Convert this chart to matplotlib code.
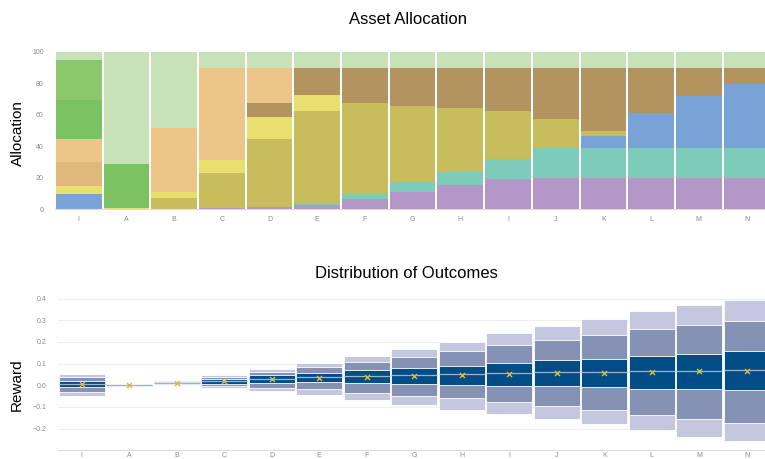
#!/usr/bin/env python3
"""
Asset allocation per portfolio, with the spread of outcomes underneath.
Writes out.png (765x459).
"""

import numpy as np
import matplotlib
matplotlib.use('Agg')
import matplotlib.pyplot as plt

categories = ['I', 'A', 'B', 'C', 'D', 'E', 'F', 'G', 'H', 'I', 'J', 'K', 'L', 'M', 'N']

# allocation (%) per asset class, stacked bottom to top
alloc_purple = [0, 0, 0, 1.0, 1.5, 3.0, 6.8, 11.2, 15.2, 19.2, 19.7, 19.7, 19.7, 19.7, 19.7]
alloc_teal = [0, 0, 0, 0, 0, 1.0, 2.7, 5.9, 8.5, 12.5, 19.4, 19.5, 19.5, 19.5, 19.5]
alloc_blue = [9.7, 0, 0, 0, 0, 0, 0, 0, 0, 0, 0, 7.5, 21.9, 32.9, 40.1]
alloc_olive = [0, 0, 7.4, 22.3, 43.3, 58.6, 58.2, 48.7, 40.8, 30.9, 18.2, 2.8, 0, 0, 0]
alloc_yellow = [5.1, 1.0, 3.8, 8.0, 14.0, 9.9, 0, 0, 0, 0, 0, 0, 0, 0, 0]
alloc_tan = [15.2, 0, 0, 0, 0, 0, 0, 0, 0, 0, 0, 0, 0, 0, 0]
alloc_brown = [0, 0, 0, 0, 8.4, 17.4, 22.2, 24.1, 25.4, 27.3, 32.3, 40.1, 28.5, 17.5, 10.3]
alloc_orange = [14.6, 0, 40.4, 58.6, 22.7, 0, 0, 0, 0, 0, 0, 0, 0, 0, 0]
alloc_green = [24.7, 27.8, 0, 0, 0, 0, 0, 0, 0, 0, 0, 0, 0, 0, 0]
alloc_green2 = [25.4, 0, 0, 0, 0, 0, 0, 0, 0, 0, 0, 0, 0, 0, 0]
alloc_pale = [5.3, 71.2, 48.4, 10.1, 10.1, 10.1, 10.1, 10.1, 10.1, 10.1, 10.4, 10.4, 10.4, 10.4, 10.4]

# reward bands per portfolio
outer_hi = [0.051, 0.004, 0.023, 0.046, 0.077, 0.103, 0.135, 0.168, 0.200, 0.243, 0.275, 0.305, 0.343, 0.372, 0.392]
mid_hi = [0.038, 0.003, 0.018, 0.038, 0.062, 0.085, 0.108, 0.131, 0.158, 0.185, 0.211, 0.234, 0.262, 0.280, 0.297]
inner_hi = [0.022, 0.002, 0.013, 0.029, 0.046, 0.057, 0.069, 0.082, 0.091, 0.103, 0.115, 0.123, 0.137, 0.146, 0.157]
inner_lo = [-0.008, -0.001, 0.009, 0.008, 0.012, 0.015, 0.011, 0.005, 0.003, -0.002, -0.005, -0.008, -0.017, -0.017, -0.023]
mid_lo = [-0.031, -0.002, 0.004, -0.005, -0.011, -0.018, -0.035, -0.049, -0.058, -0.077, -0.094, -0.114, -0.137, -0.157, -0.174]
outer_lo = [-0.048, -0.005, 0.0, -0.012, -0.026, -0.043, -0.069, -0.092, -0.112, -0.132, -0.157, -0.177, -0.208, -0.238, -0.257]
medians = [0.008, 0.0, 0.011, 0.021, 0.030, 0.038, 0.041, 0.046, 0.050, 0.055, 0.059, 0.059, 0.064, 0.067, 0.069]
means = [0.006, 0.0, 0.011, 0.020, 0.028, 0.035, 0.040, 0.045, 0.049, 0.054, 0.058, 0.058, 0.063, 0.066, 0.068]

plt.rcParams['font.family'] = ['Liberation Sans', 'DejaVu Sans']

TICK_COLOR = '#8a8a8a'
BAR_W = 0.96
W, H = 765, 459


def style_axes(ax):
  for side in ('top', 'right', 'left'):
    ax.spines[side].set_visible(False)
  ax.spines['bottom'].set_color('#dcdcdc')
  ax.spines['bottom'].set_linewidth(0.8)
  ax.tick_params(length=0, labelsize=5, colors=TICK_COLOR)
  ax.set_xticks(np.arange(len(categories)))
  ax.set_xticklabels(categories)


def draw_allocation(ax):
  x = np.arange(len(categories))
  layers = [
    (alloc_purple, '#b596c8'),
    (alloc_teal, '#7dcbb9'),
    (alloc_blue, '#79a3d6'),
    (alloc_olive, '#c7bd5c'),
    (alloc_yellow, '#e9df6f'),
    (alloc_tan, '#dfb97c'),
    (alloc_brown, '#b3935e'),
    (alloc_orange, '#eec588'),
    (alloc_green, '#7bc262'),
    (alloc_green2, '#8bc86c'),
    (alloc_pale, '#c7e2b8'),
  ]
  bottom = np.zeros(len(categories))
  for values, color in layers:
    values = np.array(values, dtype=float)
    ax.bar(x, values, BAR_W, bottom=bottom, color=color, linewidth=0)
    bottom += values

  ax.set_xlim(-0.5, len(categories) - 0.5)
  ax.set_ylim(0, 100)
  ax.set_yticks([0, 20, 40, 60, 80, 100])
  style_axes(ax)
  ax.tick_params(axis='x', pad=5)
  ax.tick_params(axis='y', pad=8)


def draw_outcomes(ax):
  x = np.arange(len(categories))
  ax.set_axisbelow(True)
  ax.grid(axis='y', color='#efefef', linewidth=0.8)

  bands = [
    (outer_lo, outer_hi, '#c4c7dd'),
    (mid_lo, mid_hi, '#8592b4'),
    (inner_lo, inner_hi, '#034d86'),
  ]
  for lo, hi, color in bands:
    lo = np.array(lo)
    hi = np.array(hi)
    ax.bar(x, hi - lo, BAR_W, bottom=lo, color=color,
           edgecolor='white', linewidth=0.6)

  ax.hlines(medians, x - BAR_W / 2, x + BAR_W / 2, color='#9fb2c9', linewidth=0.9)
  ax.scatter(x, means, marker='x', s=13, color='#e3b83a', linewidths=1.0, zorder=5)

  ax.set_xlim(-0.5, len(categories) - 0.5)
  ax.set_ylim(-0.3, 0.42)
  ax.set_yticks([-0.2, -0.1, 0.0, 0.1, 0.2, 0.3, 0.4])
  ax.set_yticklabels(['\u22120.2', '\u22120.1', '0.0', '0.1', '0.2', '0.3', '0.4'])
  style_axes(ax)
  ax.tick_params(axis='x', pad=1)
  ax.tick_params(axis='y', pad=8)


def main():
  fig = plt.figure(figsize=(W / 100, H / 100), dpi=100)
  ax_top = fig.add_axes([0.0717, 0.544, 0.9353, 0.3434])
  ax_bot = fig.add_axes([0.0758, 0.019, 0.9314, 0.3399])
  draw_allocation(ax_top)
  draw_outcomes(ax_bot)

  # titles and axis labels placed in pixel terms of the 765x459 canvas
  fig.text(408 / W, 1 - 20 / H, 'Asset Allocation', fontsize=12,
           ha='center', va='center')
  fig.text(406 / W, 1 - 273 / H, 'Distribution of Outcomes', fontsize=12,
           ha='center', va='center')
  fig.text(18 / W, 1 - 133 / H, 'Allocation', fontsize=11, rotation=90,
           ha='center', va='center')
  fig.text(17 / W, 1 - 385 / H, 'Reward', fontsize=11, rotation=90,
           ha='center', va='center')

  fig.savefig('out.png', dpi=100)


if __name__ == '__main__':
  main()
